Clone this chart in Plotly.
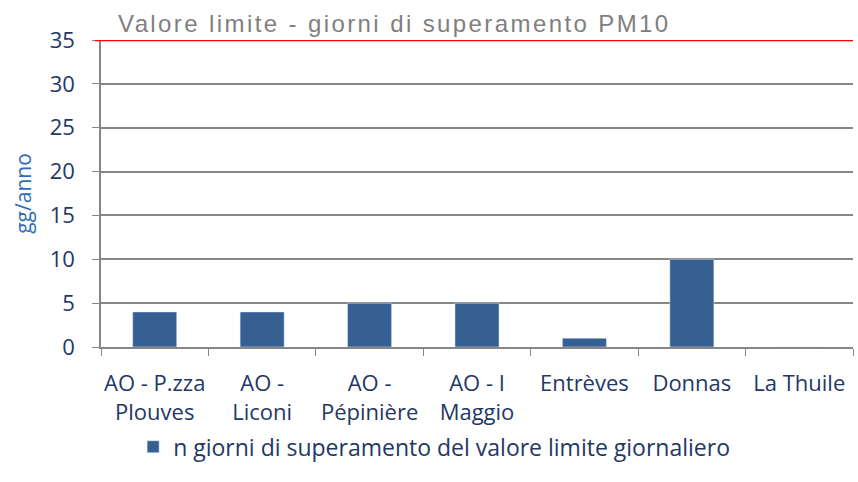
import plotly.graph_objects as go

categories = ["AO - P.zza<br>Plouves", "AO -<br>Liconi", "AO -<br>Pépinière", "AO - I<br>Maggio",
              "Entrèves", "Donnas", "La Thuile"]
giorni = [4, 4, 5, 5, 1, 10, 0]
valore_limite = 35
series_name = "n giorni di superamento del valore limite giornaliero"
limit_label = "Valore limite - giorni di superamento PM10"
y_title = "gg/anno"
y_ticks = [0, 5, 10, 15, 20, 25, 30, 35]

navy = "#1F3864"
fig = go.Figure()
fig.add_trace(go.Bar(x=categories, y=giorni, name=series_name, marker_color="#376092",
                     width=0.41, showlegend=True))

fig.add_shape(type="line", xref="paper", yref="y", x0=-0.008, x1=1, y0=valore_limite, y1=valore_limite,
              line=dict(color="#FF0000", width=2.5), layer="above")
fig.add_annotation(text='<span style="letter-spacing:2.4px">' + limit_label + '</span>',
                   xref="paper", yref="paper", x=0.02, y=1.0, xanchor="left",
                   yanchor="bottom", showarrow=False, yshift=1,
                   font=dict(family="Liberation Sans, Arial", size=24, color="#7F7F7F"))

fig.update_layout(
    width=858, height=482,
    margin=dict(l=101, r=5, t=40, b=135, autoexpand=False),
    plot_bgcolor="white", paper_bgcolor="white",
    font=dict(family="Open Sans, Lato, sans-serif", size=22, color=navy),
    bargap=0.59,
    xaxis=dict(showline=True, linecolor="#868686", linewidth=1.5, ticks="outside", tickson="boundaries",
               ticklen=7, tickcolor="#868686", tickfont=dict(size=22, color=navy), showgrid=False,
               automargin=False, ticklabelstandoff=16, tickangle=0),
    yaxis=dict(range=[0, 35], tickvals=y_ticks, showline=True, linecolor="#868686", linewidth=1.5,
               ticks="outside", ticklen=7, tickcolor="#868686", gridcolor="#868686", gridwidth=1.5,
               tickfont=dict(size=22, color=navy), zeroline=False, automargin=False,
               ticklabelstandoff=13,
               title=dict(text=y_title, font=dict(size=21, color="#2E6DB4"), standoff=12)),
    legend=dict(orientation="h", x=0.443, xanchor="center", y=-0.255, yanchor="top",
                bgcolor="rgba(0,0,0,0)", font=dict(size=23, color=navy), itemwidth=30),
)
fig.write_html("out.html", config={"displayModeBar": False},
               post_script="document.body.style.margin='0px';")
